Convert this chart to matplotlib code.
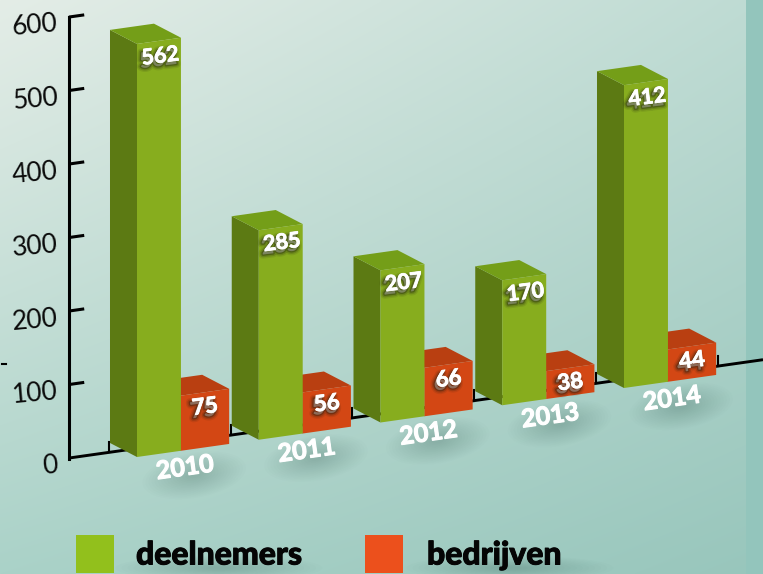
import numpy as np
import matplotlib
matplotlib.use("Agg")
import matplotlib.pyplot as plt
from matplotlib.transforms import Affine2D
from matplotlib.patches import Polygon, Ellipse, Rectangle
import matplotlib.patheffects as pe

years = ["2010", "2011", "2012", "2013", "2014"]
deelnemers = [562, 285, 207, 170, 412]
bedrijven = [75, 56, 66, 38, 44]
tick_values = [0, 100, 200, 300, 400, 500, 600]
series_names = ["deelnemers", "bedrijven"]

GREEN = ("#87AD1E", "#5C7A13", "#749E18")
RED = ("#D34714", "#B23E12", "#B93F11")
W_G, W_R = 0.361, 0.396
DP, DV = -0.2218, 24.3   # depth of the pseudo-3D boxes
SHEAR = 23.47            # rise of the floor, value units per category
BASE = 11.7              # the axis floor sits this far above the bars' front edge

fig = plt.figure(figsize=(7.63, 5.74), dpi=100)
ax = fig.add_axes([0, 0, 1, 1])
ax.axis("off")
sk = Affine2D(np.array([[1, 0, 0], [SHEAR, 1, 0], [0, 0, 1]], float)) + ax.transData

XL = (-137 / 121.75, (763 - 137) / 121.75)
YL = (-(574 - 457) / 0.735, 457 / 0.735)

# background
corners = np.array([[[228, 237, 231], [190, 219, 211]],
                    [[170, 210, 200], [152, 198, 188]]], float) / 255
u, t = np.meshgrid(np.linspace(0, 1, 380), np.linspace(0, 1, 290))
bg = ((1 - t)[..., None] * ((1 - u)[..., None] * corners[0, 0] + u[..., None] * corners[0, 1])
      + t[..., None] * ((1 - u)[..., None] * corners[1, 0] + u[..., None] * corners[1, 1]))
ax.imshow(bg, extent=(XL[0], XL[1], YL[0], YL[1]), aspect="auto", origin="upper",
          zorder=0, interpolation="bilinear")
ax.add_patch(Rectangle(((746 - 137) / 121.75, YL[0]), 2, YL[1] - YL[0], color="#93C5BC", zorder=0.5, lw=0))


def soft(p, v, w, h, alpha=0.022, color="#33504A", n=16, z=1, tr=None):
    for s in np.linspace(1, 0.12, n):
        ax.add_patch(Ellipse((p, v), w * s, h * s, color=color, alpha=alpha, lw=0, zorder=z,
                             transform=tr if tr is not None else ax.transData))


# floor line, its ticks and the value axis
P0 = (69 - 137) / 121.75
ax.plot([P0, (763 - 137) / 121.75], [BASE, BASE], transform=sk, color="k", lw=2.1,
        solid_capstyle="butt", zorder=2)
for i in range(len(years) + 1):
    ax.plot([i - 0.23, i - 0.23], [BASE, BASE + 14], transform=sk, color="k", lw=1.5, zorder=2)
ax.plot([P0, P0], [BASE - 1, BASE + 600], transform=sk, color="k", lw=2.2, zorder=2,
        solid_capstyle="projecting")
for val in tick_values:
    if val:
        ax.plot([P0, P0 + 0.125], [BASE + val, BASE + val], transform=sk, color="k", lw=2.2,
                zorder=2, solid_capstyle="butt")
    ax.text((58 - 137) / 121.75, val + 4.3, str(val), transform=sk, ha="right", va="center",
            rotation=5, rotation_mode="anchor", fontsize=19,
            family="Lato", color="#0a0a0a", zorder=3)

ax.plot([(1.5 - 137) / 121.75, (6 - 137) / 121.75], [(457 - 364) / 0.735] * 2, color="k", lw=1.5, zorder=2)


def box(left, width, value, cols, z):
    ax.add_patch(Polygon([(left, 0), (left + DP, DV), (left + DP, value + DV), (left, value)],
                         closed=True, transform=sk, fc=cols[1], ec="none", zorder=z))
    ax.add_patch(Polygon([(left, value), (left + DP, value + DV), (left + DP + width, value + DV),
                          (left + width, value)],
                         closed=True, transform=sk, fc=cols[2], ec="none", zorder=z))
    ax.bar(left, value, width, align="edge", color=cols[0], transform=sk, zorder=z + 0.01, lw=0)


halo = [pe.Stroke(linewidth=lw, foreground="#1c1c10", alpha=a, offset=(-1.5, -2.5))
        for lw, a in [(6, 0.10), (4, 0.18), (2, 0.35)]] + [pe.Stroke(linewidth=0.6, foreground="white"), pe.Normal()]
year_fx = [pe.Stroke(linewidth=0.8, foreground="white"), pe.Normal()]

for i, yr in enumerate(years):
    g_left = float(i)
    r_left = i + W_G
    box(r_left, W_R, bedrijven[i], RED, 4 + i)
    box(g_left, W_G, deelnemers[i], GREEN, 4.5 + i)
    ax.text(g_left + W_G / 2 + 0.01, deelnemers[i] - 21, str(deelnemers[i]), transform=sk, ha="center", va="center",
            rotation=7, rotation_mode="anchor", fontsize=15.5, weight="bold", family="Lato", color="white",
            path_effects=halo, zorder=20)
    ax.text(r_left + W_R / 2, bedrijven[i] - 20, str(bedrijven[i]), transform=sk, ha="center", va="center",
            rotation=7, rotation_mode="anchor", fontsize=16, weight="bold", family="Lato", color="white",
            path_effects=halo, zorder=20)
    soft(i + 0.47, -36, 0.85, 62, alpha=0.013, z=1, tr=sk)
    ax.text(i + 0.394, -24, yr, transform=sk, ha="center", va="center", rotation=8, rotation_mode="anchor",
            fontsize=18, weight="bold", family="Lato", color="white", path_effects=year_fx, zorder=3)

# legend
LEG = [(76, "#92C01C", 136), (365, "#EC501C", 427)]
for (x0, col, tx), name in zip(LEG, series_names):
    p = (x0 - 137) / 121.75
    ax.add_patch(Rectangle((p, (457 - 573) / 0.735), 38 / 121.75, 38 / 0.735, color=col, lw=0, zorder=3))
    tp = (tx - 137) / 121.75
    soft(tp + 0.68, (457 - 568) / 0.735, 1.7, 34, alpha=0.014, z=1)
    ax.text(tp, (457 - 555) / 0.735, name, ha="left", va="center", fontsize=23, weight="black",
            family="Lato", color="#050505", zorder=4,
            path_effects=[pe.Stroke(linewidth=0.7, foreground="#050505"), pe.Normal()])

ax.set_xlim(*XL)
ax.set_ylim(*YL)
fig.savefig("out.png", dpi=100)
